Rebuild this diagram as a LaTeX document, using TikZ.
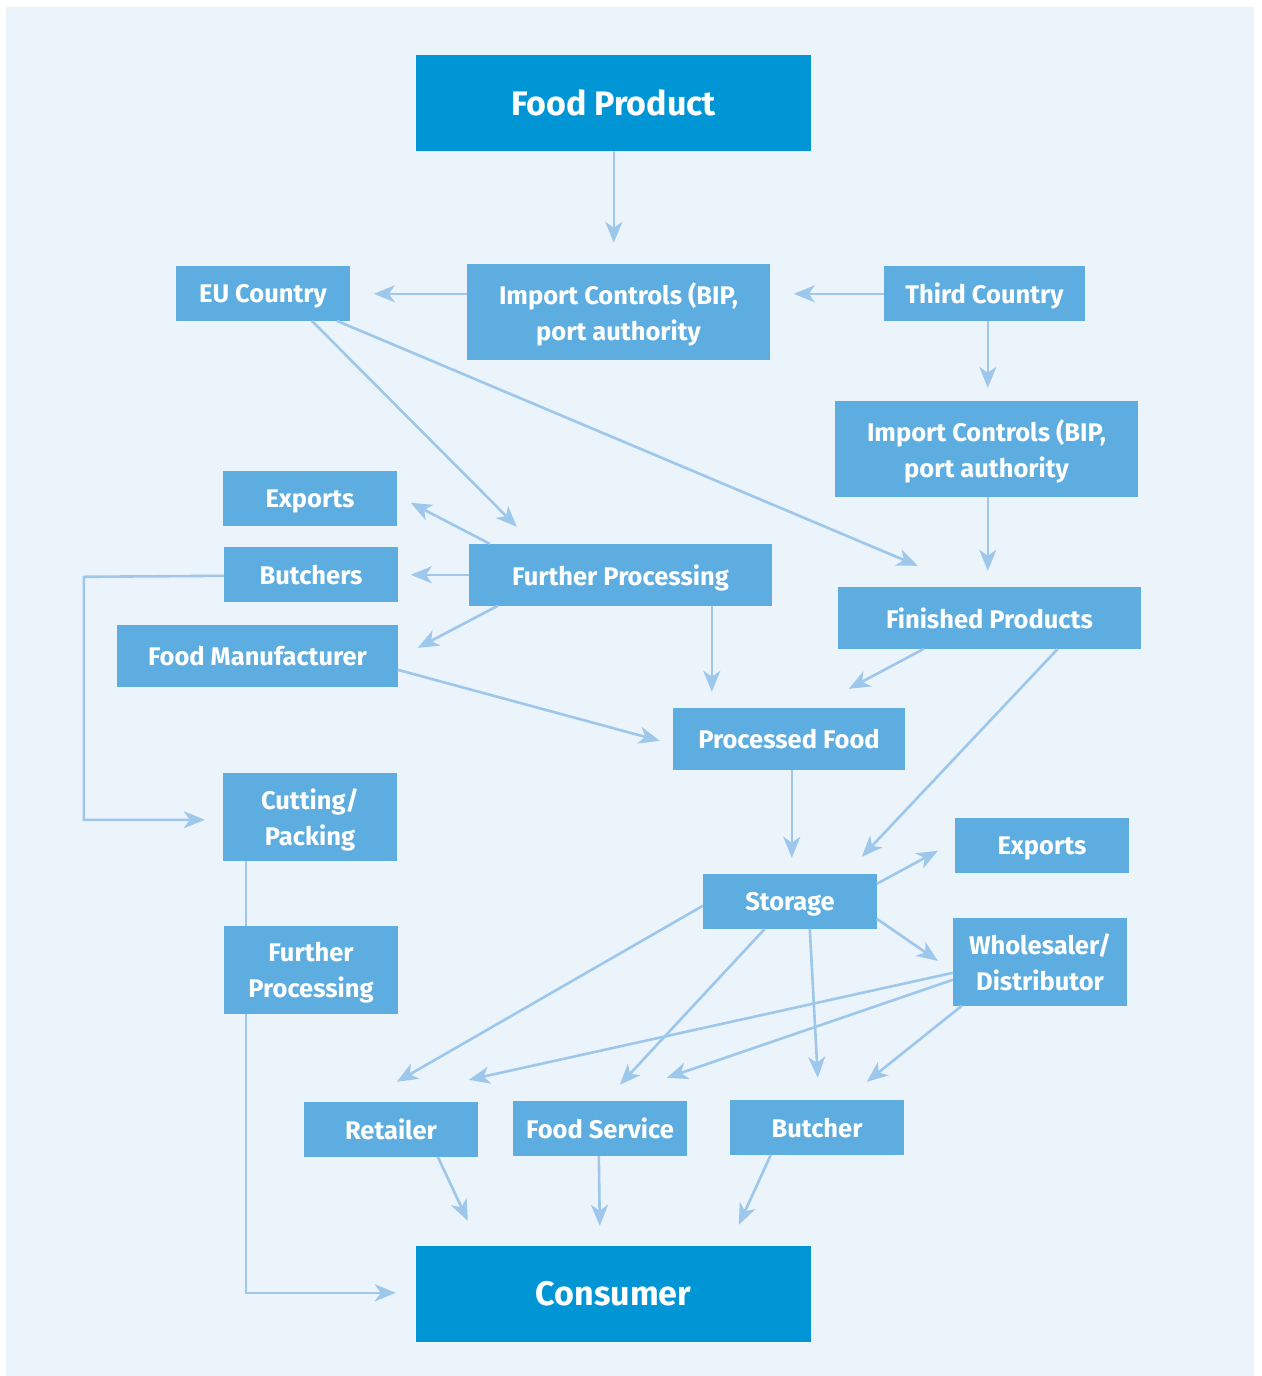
\documentclass[tikz,border=0pt]{standalone}
\usepackage{fontspec}
\setmainfont{Fira Sans}
\usetikzlibrary{arrows.meta,calc}
\definecolor{bgc}{HTML}{EBF3FB}
\definecolor{bigc}{HTML}{0096D6}
\definecolor{boxc}{HTML}{5DADE0}
\definecolor{linec}{HTML}{9DC7EB}
\tikzset{
  box/.style={fill=boxc, text=white, font=\fontsize{25.5}{36}\selectfont\bfseries, align=center, inner sep=0pt, text depth=0pt, anchor=center},
  bigbox/.style={fill=bigc, text=white, font=\fontsize{34}{40}\selectfont\bfseries, align=center, inner sep=0pt, anchor=center},
  arr/.style={draw=linec, line width=2.6pt, -{Stealth[length=21pt,width=17pt,inset=6pt]}},
  ln/.style={draw=linec, line width=2.6pt}
}
\newcommand{\bx}[6]{\node[#1, minimum width=#4pt, minimum height=#5pt] (#2) at (#3) {#6};}
\begin{document}
\begin{tikzpicture}[x=1pt,y=-1pt]
\useasboundingbox (0,0) rectangle (1261,1376);
\fill[bgc] (6,7) rectangle (1254,1376);
\bx{bigbox}{foodp}{613.5,103}{395}{96}{Food Product}
\bx{box}{imp1}{618.5,312}{303}{96}{Import Controls (BIP,\\port authority}
\bx{box}{eu}{263,293.5}{174}{55}{EU Country}
\bx{box}{third}{984.5,293.5}{201}{55}{Third Country}
\bx{box}{imp2}{986.5,449}{303}{96}{Import Controls (BIP,\\port authority}
\bx{box}{exp1}{310,498.5}{174}{55}{Exports}
\bx{box}{butchers}{311,574.5}{174}{55}{Butchers}
\bx{box}{fproc}{620.5,575}{303}{62}{Further Processing}
\bx{box}{fman}{257.5,656}{281}{62}{Food Manufacturer}
\bx{box}{finp}{989.5,618}{303}{62}{Finished Products}
\bx{box}{procf}{789,739}{232}{62}{Processed Food}
\bx{box}{cut}{310,817}{174}{88}{Cutting/\\Packing}
\bx{box}{exp2}{1042,845.5}{174}{55}{Exports}
\bx{box}{storage}{790,901.5}{174}{55}{Storage}
\bx{box}{whole}{1040,962}{174}{88}{Wholesaler/\\Distributor}
\bx{box}{retailer}{391,1129.5}{174}{55}{Retailer}
\bx{box}{fserv}{600,1128.5}{174}{55}{Food Service}
\bx{box}{butcher}{817,1127.5}{174}{55}{Butcher}
\bx{bigbox}{consumer}{613.5,1294}{395}{96}{Consumer}
% connectors
\draw[arr] ($(foodp.north west)+(198,96)$) -- ($(imp1.north west)+(147,-21)$);
\draw[arr] ($(imp1.north west)+(0,30)$) -- ($(eu.north west)+(198,28)$);
\draw[arr] ($(third.north west)+(0,28)$) -- ($(imp1.north west)+(327,30)$);
\draw[arr] ($(third.north west)+(104,55)$) -- ($(imp2.north west)+(153,-13)$);
\draw[arr] ($(eu.north west)+(136,55)$) -- ($(fproc.north west)+(48,-17)$);
\draw[arr] ($(eu.north west)+(161,55)$) -- ($(finp.north west)+(80,-21)$);
\draw[arr] ($(imp2.north west)+(153,96)$) -- ($(finp.north west)+(150,-16)$);
\draw[arr] ($(fproc.north west)+(21,0)$) -- ($(exp1.north west)+(188,32)$);
\draw[arr] ($(fproc.north west)+(0,31)$) -- ($(butchers.north west)+(187,28)$);
\draw[arr] ($(fproc.north west)+(29,62)$) -- ($(fman.north west)+(301,23)$);
\draw[arr] ($(fproc.north west)+(243,62)$) -- ($(procf.north west)+(39,-16)$);
\draw[arr] ($(fman.north west)+(281,45)$) -- ($(procf.north west)+(-13,33)$);
\draw[arr] ($(finp.north west)+(86,62)$) -- ($(procf.north west)+(176,-19)$);
\draw[arr] ($(finp.north west)+(220,62)$) -- ($(storage.north west)+(159,-17)$);
\draw[arr] ($(procf.north west)+(119,62)$) -- ($(storage.north west)+(89,-16)$);
\draw[arr] ($(butchers.north west)+(0,29)$) -- ($(butchers.north west)+(-140,30)$) |- ($(cut.north west)+(-18,47)$);
\draw[arr] ($(cut.south west)+(23,0)$) |- ($(consumer.north west)+(-20,47)$);
\draw[arr] ($(storage.north west)+(174,10)$) -- ($(exp2.north west)+(-17,33)$);
\draw[arr] ($(storage.north west)+(174,45)$) -- ($(whole.north west)+(-15,43)$);
\draw[arr] ($(storage.north west)+(0,32)$) -- ($(retailer.north west)+(93,-20)$);
\draw[arr] ($(storage.north west)+(62,55)$) -- ($(fserv.north west)+(107,-16)$);
\draw[arr] ($(storage.north west)+(107,55)$) -- ($(butcher.north west)+(88,-22)$);
\draw[arr] ($(whole.north west)+(0,55)$) -- ($(retailer.north west)+(165,-22)$);
\draw[arr] ($(whole.north west)+(0,62)$) -- ($(fserv.north west)+(154,-23)$);
\draw[arr] ($(whole.north west)+(9,88)$) -- ($(butcher.north west)+(137,-18)$);
\draw[arr] ($(retailer.north west)+(134,55)$) -- ($(consumer.north west)+(52,-25)$);
\draw[arr] ($(fserv.north west)+(86,55)$) -- ($(consumer.north west)+(184,-20)$);
\draw[arr] ($(butcher.north west)+(41,55)$) -- ($(consumer.north west)+(323,-21)$);
% box drawn over the line from Cutting/Packing
\bx{box}{fproc2}{311,970}{174}{88}{Further\\Processing}
\end{tikzpicture}
\end{document}
